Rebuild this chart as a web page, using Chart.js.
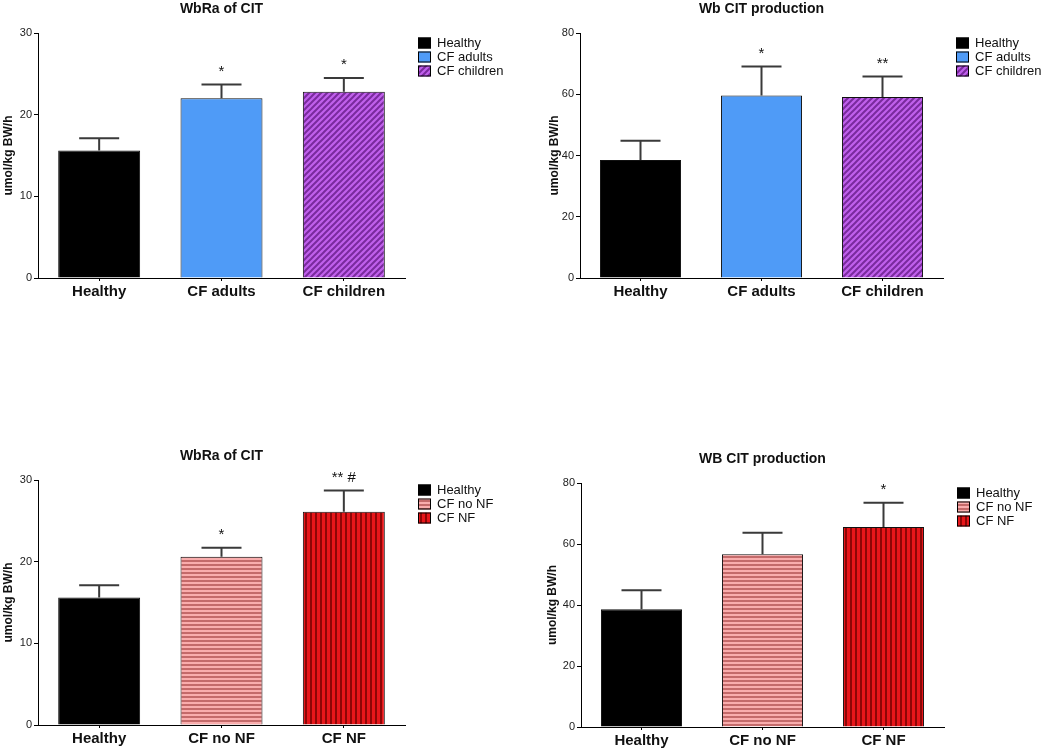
<!DOCTYPE html>
<html>
<head>
<meta charset="utf-8">
<script src="https://cdn.jsdelivr.net/npm/chart.js@4.4.1/dist/chart.umd.min.js"></script>
<style>
    body { margin: 0; background: #fff; width: 1050px; height: 750px; position: relative; overflow: hidden; }
    .panel { position: absolute; }
</style>
</head>
<body>
<div class="panel" style="left:0;top:0"><canvas id="c1" width="520" height="310"></canvas></div>
<div class="panel" style="left:520px;top:0"><canvas id="c2" width="530" height="310"></canvas></div>
<div class="panel" style="left:0;top:440px"><canvas id="c3" width="520" height="310"></canvas></div>
<div class="panel" style="left:520px;top:440px"><canvas id="c4" width="530" height="310"></canvas></div>
<script>
// groups
const groupsAge = ['Healthy', 'CF adults', 'CF children'];
const groupsNF = ['Healthy', 'CF no NF', 'CF NF'];

// mean values and SEM (upper error bar only)
const wbraAge = [15.6, 22.0, 22.8];
const wbraAgeSem = [1.5, 1.7, 1.7];
const prodAge = [38.5, 59.6, 59.1];
const prodAgeSem = [6.3, 9.5, 6.7];
const wbraNF = [15.6, 20.6, 26.1];
const wbraNFSem = [1.5, 1.1, 2.6];
const prodNF = [38.6, 56.6, 65.6];
const prodNFSem = [6.2, 7.1, 7.9];

// significance marks
const marksWbraAge = ['', '*', '*'];
const marksProdAge = ['', '*', '**'];
const marksWbraNF = ['', '*', '** #'];
const marksProdNF = ['', '', '*'];

// y tick values
const ticksWbra = [0, 10, 20, 30];
const ticksProd = [0, 20, 40, 60, 80];

const FONT = '"Liberation Sans", Arial, sans-serif';
Chart.defaults.font.family = FONT;
Chart.defaults.color = '#111';

function stripes(kind, light, dark) {
    const c = document.createElement('canvas');
    const size = kind === 'diag' ? 6 : (kind === 'h' ? 4 : 5);
    c.width = size; c.height = size;
    const g = c.getContext('2d');
    g.fillStyle = light;
    g.fillRect(0, 0, size, size);
    g.fillStyle = dark;
    g.strokeStyle = dark;
    if (kind === 'h') {
        g.fillRect(0, 0, size, 2);
    } else if (kind === 'v') {
        g.fillRect(0, 0, 2, size);
    } else {
        g.lineWidth = 2;
        g.beginPath();
        g.moveTo(-1, size + 1); g.lineTo(size + 1, -1);
        g.moveTo(-1, 1); g.lineTo(1, -1);
        g.moveTo(size - 1, size + 1); g.lineTo(size + 1, size - 1);
        g.stroke();
    }
    return g.createPattern(c, 'repeat');
}

const purpleHatch = stripes('diag', '#c060ec', '#7a2a9e');
const pinkStripes = stripes('h', '#f9adad', '#c46a6a');
const redStripes = stripes('v', '#e8161a', '#8e0606');

const fillsAge = ['#000000', '#4f9bf7', purpleHatch];
const fillsNF = ['#000000', pinkStripes, redStripes];

// error bars, marks, title and legend
const extras = {
    id: 'extras',
    afterDatasetsDraw(chart, args, opts) {
        const ctx = chart.ctx;
        const y = chart.scales.y;
        const meta = chart.getDatasetMeta(0);
        const values = chart.data.datasets[0].data;
        ctx.save();
        meta.data.forEach((bar, i) => {
            const top = y.getPixelForValue(values[i] + opts.sem[i]);
            ctx.strokeStyle = '#3a3a3a';
            ctx.lineWidth = 2;
            ctx.beginPath();
            ctx.moveTo(bar.x, bar.y);
            ctx.lineTo(bar.x, top);
            ctx.moveTo(bar.x - 20, top);
            ctx.lineTo(bar.x + 20, top);
            ctx.stroke();
            if (opts.marks[i]) {
                ctx.fillStyle = '#111';
                ctx.font = '15px ' + FONT;
                ctx.textAlign = 'center';
                ctx.textBaseline = 'middle';
                ctx.fillText(opts.marks[i], bar.x, top - 13);
            }
        });
        ctx.restore();
    },
    afterDraw(chart, args, opts) {
        const ctx = chart.ctx;
        const area = chart.chartArea;
        ctx.save();
        ctx.fillStyle = '#111';
        ctx.font = 'bold 14px ' + FONT;
        ctx.textAlign = 'center';
        ctx.textBaseline = 'middle';
        ctx.fillText(opts.title, (area.left + area.right) / 2, area.top - 24);

        const fills = chart.data.datasets[0].backgroundColor;
        chart.data.labels.forEach((lab, i) => {
            const bx = area.right + 13;
            const cy = area.top + 10 + i * 14;
            ctx.fillStyle = fills[i];
            ctx.fillRect(bx, cy - 5.5, 13, 11);
            ctx.strokeStyle = '#000';
            ctx.lineWidth = 1;
            ctx.strokeRect(bx + 0.5, cy - 5, 12, 10);
            ctx.fillStyle = '#111';
            ctx.font = '13px ' + FONT;
            ctx.textAlign = 'left';
            ctx.fillText(lab, bx + 19, cy + 0.5);
        });
        ctx.restore();
    }
};

function makeChart(id, cfg) {
    const ticks = cfg.ticks;
    new Chart(document.getElementById(id), {
        type: 'bar',
        data: {
            labels: cfg.labels,
            datasets: [{
                data: cfg.values,
                backgroundColor: cfg.fills,
                borderColor: '#111',
                borderWidth: 1,
                categoryPercentage: 1,
                barPercentage: 0.67
            }]
        },
        options: {
            responsive: false,
            animation: false,
            events: [],
            layout: { padding: { left: cfg.left, top: cfg.top, right: cfg.right, bottom: 0 } },
            plugins: {
                legend: { display: false },
                tooltip: { enabled: false },
                extras: { title: cfg.title, sem: cfg.sem, marks: cfg.marks }
            },
            scales: {
                x: {
                    afterFit: s => { s.height = cfg.xHeight; },
                    grid: { display: true, drawOnChartArea: false, offset: false, tickLength: 3, color: '#000' },
                    border: { color: '#000', width: 1 },
                    ticks: { font: { size: 15, weight: 'bold' }, color: '#111', padding: 2 }
                },
                y: {
                    min: ticks[0],
                    max: ticks[ticks.length - 1],
                    afterFit: s => { s.width = cfg.yWidth; },
                    afterBuildTicks: s => { s.ticks = ticks.map(v => ({ value: v })); },
                    grid: { display: true, drawOnChartArea: false, tickLength: 4, color: '#000' },
                    border: { color: '#000', width: 1 },
                    ticks: { font: { size: 11 }, color: '#222', padding: 2 },
                    title: {
                        display: true,
                        text: 'umol/kg BW/h',
                        font: { size: 12, weight: 'bold' },
                        color: '#111',
                        padding: { top: 0, bottom: 0 }
                    }
                }
            }
        },
        plugins: [extras]
    });
}

makeChart('c1', {
    title: 'WbRa of CIT', labels: groupsAge, values: wbraAge, sem: wbraAgeSem,
    marks: marksWbraAge, fills: fillsAge, ticks: ticksWbra,
    left: 1, top: 33, right: 115, yWidth: 37, xHeight: 32
});
makeChart('c2', {
    title: 'Wb CIT production', labels: groupsAge, values: prodAge, sem: prodAgeSem,
    marks: marksProdAge, fills: fillsAge, ticks: ticksProd,
    left: 27, top: 33, right: 107, yWidth: 33, xHeight: 32
});
makeChart('c3', {
    title: 'WbRa of CIT', labels: groupsNF, values: wbraNF, sem: wbraNFSem,
    marks: marksWbraNF, fills: fillsNF, ticks: ticksWbra,
    left: 1, top: 40, right: 115, yWidth: 37, xHeight: 25
});
makeChart('c4', {
    title: 'WB CIT production', labels: groupsNF, values: prodNF, sem: prodNFSem,
    marks: marksProdNF, fills: fillsNF, ticks: ticksProd,
    left: 25, top: 43, right: 106, yWidth: 36, xHeight: 23
});
</script>
</body>
</html>
